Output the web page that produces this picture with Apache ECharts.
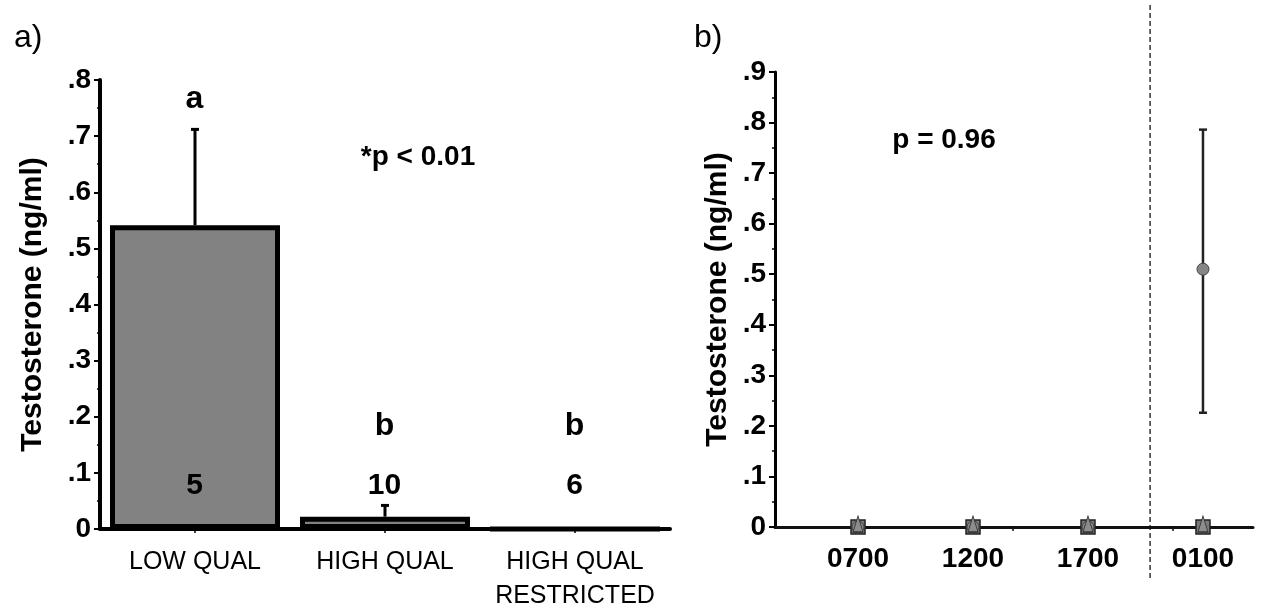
<!DOCTYPE html>
<html>
<head>
<meta charset="utf-8">
<script src="https://cdn.jsdelivr.net/npm/echarts@6/dist/echarts.min.js"></script>
<style>
  html, body { margin: 0; padding: 0; background: #fff; }
  #main { width: 1261px; height: 613px; }
</style>
</head>
<body>
<div id="main"></div>
<script>
// panel a) - bar chart
var categories = ['LOW QUAL', 'HIGH QUAL', 'HIGH QUAL\nRESTRICTED']
var meanValues = [0.541, 0.022, 0]
var upperValues = [0.712, 0.042, 0]
var groupLetters = ['a', 'b', 'b']
var sampleSizes = ['5', '10', '6']

// panel b) - time points
var timeLabels = ['0700', '1200', '1700', '0100']
var squareValues = [0, 0, 0, 0]
var triangleValues = [0, 0, 0, 0]
var circleValues = [0, 0, 0, 0.51]
var circleLow = [null, null, null, 0.226]
var circleHigh = [null, null, null, 0.786]

var FONT = '"Liberation Sans", Arial, sans-serif'

var chartDom = document.getElementById('main')
var myChart = echarts.init(chartDom)

function tickFmt(v) {
  if (v === 0) return '0'
  return '.' + Math.round(v * 10)
}

function yAxisCommon(max, lineWidth) {
  return {
    type: 'value',
    min: 0,
    max: max,
    interval: 0.1,
    name: 'Testosterone (ng/ml)',
    nameLocation: 'middle',
    nameGap: 50,
    nameTextStyle: { fontFamily: FONT, fontWeight: 'bold', fontSize: 30, color: '#000' },
    axisLine: { show: true, lineStyle: { color: '#000', width: lineWidth } },
    axisTick: { show: true, length: 6, lineStyle: { color: '#000', width: 2 } },
    minorTick: { show: true, splitNumber: 2, length: 3, lineStyle: { color: '#000', width: 1.5 } },
    splitLine: { show: false },
    axisLabel: {
      formatter: tickFmt,
      margin: 9,
      fontFamily: FONT,
      fontWeight: 'bold',
      fontSize: 28,
      color: '#000'
    }
  }
}

// x positions of panel b points
function timeData(vals) {
  return vals.map(function (v, i) { return [i + 1, v] })
}

// annotation text drawn as labels of invisible points
var textLabel = {
  show: true,
  position: [0, 0],
  align: 'center',
  verticalAlign: 'middle',
  formatter: function (p) { return p.value[2] },
  fontFamily: FONT,
  fontWeight: 'bold',
  color: '#000',
  textBorderWidth: 0
}

var option = {
  backgroundColor: '#fff',
  animation: false,
  grid: [
    { left: 100, top: 80, width: 570, bottom: 80 },
    { left: 775, top: 72, right: 8, bottom: 86 }
  ],
  xAxis: [
    {
      type: 'category',
      gridIndex: 0,
      data: categories,
      axisLine: { lineStyle: { color: '#000', width: 4 } },
      axisTick: { show: true, alignWithLabel: true, length: 4, lineStyle: { color: '#000', width: 1.5 } },
      axisLabel: {
        interval: 0,
        margin: 16,
        fontFamily: FONT,
        fontSize: 25,
        lineHeight: 34,
        color: '#000'
      }
    },
    {
      type: 'value',
      gridIndex: 1,
      min: 0.278,
      max: 4.435,
      splitLine: { show: false },
      axisLine: { onZero: true, lineStyle: { color: '#111', width: 3 } },
      axisTick: { show: true, customValues: [2.348, 3.739], length: 4, lineStyle: { color: '#111', width: 1.5 } },
      axisLabel: {
        customValues: [1, 2, 3, 4],
        formatter: function (v) { return timeLabels[Math.round(v) - 1] },
        margin: 18,
        fontFamily: FONT,
        fontWeight: 'bold',
        fontSize: 28,
        color: '#000'
      }
    }
  ],
  yAxis: [
    Object.assign(yAxisCommon(0.8, 4), { gridIndex: 0, nameGap: 52 }),
    Object.assign(yAxisCommon(0.9, 3), { gridIndex: 1, nameGap: 42 })
  ],
  graphic: [
    { id: 'tagA', type: 'text', left: 14, top: 22, style: { text: 'a)', font: '32px ' + FONT, fill: '#000' } },
    { id: 'tagB', type: 'text', left: 694, top: 22, style: { text: 'b)', font: '32px ' + FONT, fill: '#000' } },
    { id: 'pA', type: 'text', x: 418, y: 157, style: { text: '*p < 0.01', font: 'bold 28px ' + FONT, fill: '#000', align: 'center', verticalAlign: 'middle' } },
    { id: 'pB', type: 'text', x: 944, y: 140, style: { text: 'p = 0.96', font: 'bold 28px ' + FONT, fill: '#000', align: 'center', verticalAlign: 'middle' } }
  ],
  series: [
    {
      type: 'custom',
      xAxisIndex: 0,
      yAxisIndex: 0,
      z: 1,
      data: meanValues.map(function (v, i) { return [i, v, upperValues[i]] }).filter(function (d) { return d[2] > d[1] }),
      renderItem: function (params, api) {
        var lo = api.coord([api.value(0), api.value(1)])
        var hi = api.coord([api.value(0), api.value(2)])
        var st = { stroke: '#000', lineWidth: 3 }
        return {
          type: 'group',
          children: [
            { type: 'line', shape: { x1: lo[0], y1: lo[1], x2: hi[0], y2: hi[1] }, style: st },
            { type: 'line', shape: { x1: hi[0] - 4, y1: hi[1], x2: hi[0] + 4, y2: hi[1] }, style: st }
          ]
        }
      }
    },
    {
      type: 'bar',
      xAxisIndex: 0,
      yAxisIndex: 0,
      z: 2,
      barWidth: 170,
      data: meanValues,
      itemStyle: { color: '#828282', borderColor: '#000', borderWidth: 5 }
    },
    {
      type: 'scatter',
      xAxisIndex: 0,
      yAxisIndex: 0,
      z: 3,
      symbolSize: 1,
      itemStyle: { color: 'rgba(0,0,0,0)', opacity: 1 },
      data: groupLetters.map(function (t, i) { return [i, i === 0 ? 0.765 : 0.182, t] }),
      label: Object.assign({}, textLabel, { fontSize: 32 })
    },
    {
      type: 'scatter',
      xAxisIndex: 0,
      yAxisIndex: 0,
      z: 3,
      symbolSize: 1,
      itemStyle: { color: 'rgba(0,0,0,0)', opacity: 1 },
      data: sampleSizes.map(function (t, i) { return [i, 0.076, t] }),
      label: Object.assign({}, textLabel, { fontSize: 30 })
    },
    {
      type: 'custom',
      xAxisIndex: 1,
      yAxisIndex: 1,
      z: 1,
      data: circleLow.map(function (v, i) { return [i + 1, v, circleHigh[i]] }).filter(function (d) { return d[1] !== null }),
      renderItem: function (params, api) {
        var lo = api.coord([api.value(0), api.value(1)])
        var hi = api.coord([api.value(0), api.value(2)])
        var st = { stroke: '#222', lineWidth: 2.5 }
        return {
          type: 'group',
          children: [
            { type: 'line', shape: { x1: lo[0], y1: lo[1], x2: hi[0], y2: hi[1] }, style: st },
            { type: 'line', shape: { x1: hi[0] - 4, y1: hi[1], x2: hi[0] + 4, y2: hi[1] }, style: st },
            { type: 'line', shape: { x1: lo[0] - 4, y1: lo[1], x2: lo[0] + 4, y2: lo[1] }, style: st }
          ]
        }
      }
    },
    {
      type: 'scatter',
      xAxisIndex: 1,
      yAxisIndex: 1,
      z: 2,
      symbol: 'rect',
      symbolSize: 14,
      data: timeData(squareValues),
      itemStyle: { color: '#7a7a7a', borderColor: '#222', borderWidth: 1.5, opacity: 1 }
    },
    {
      type: 'scatter',
      xAxisIndex: 1,
      yAxisIndex: 1,
      z: 3,
      symbol: 'circle',
      symbolSize: 12,
      data: timeData(circleValues),
      itemStyle: { color: '#858585', borderColor: '#444', borderWidth: 1, opacity: 1 }
    },
    {
      type: 'scatter',
      xAxisIndex: 1,
      yAxisIndex: 1,
      z: 4,
      symbol: 'triangle',
      symbolSize: [10, 16],
      symbolOffset: [0, -3],
      data: timeData(triangleValues),
      itemStyle: { color: '#8c8c8c', borderColor: '#333', borderWidth: 1, opacity: 1 }
    }
  ]
}

myChart.setOption(option)

// dashed separator between 1700 and 0100, spanning the panel height
var sepX = myChart.convertToPixel({ xAxisIndex: 1 }, 3.54)
option.graphic.push({
  id: 'sep',
  type: 'line',
  shape: { x1: sepX, y1: 5, x2: sepX, y2: 580 },
  style: { stroke: '#333', lineWidth: 1.5, lineDash: [5, 3] }
})
myChart.setOption({ graphic: option.graphic })
</script>
</body>
</html>
